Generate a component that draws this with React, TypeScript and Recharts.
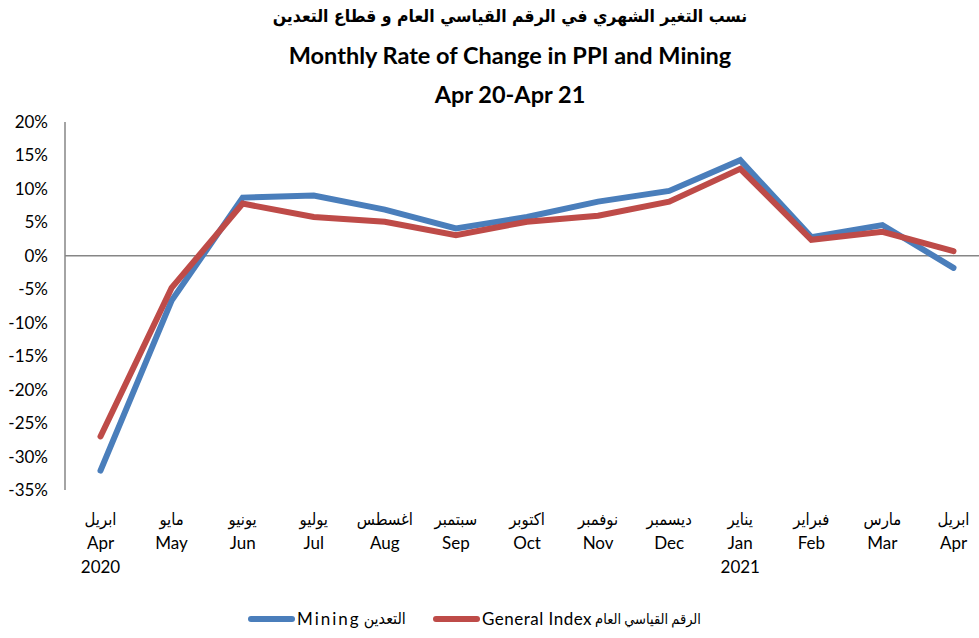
import { LineChart, Line, XAxis, YAxis, ReferenceLine } from 'recharts'

const monthsEn = ['Apr', 'May', 'Jun', 'Jul', 'Aug', 'Sep', 'Oct', 'Nov', 'Dec', 'Jan', 'Feb', 'Mar', 'Apr']
const monthsAr = ['ابريل', 'مايو', 'يونيو', 'يوليو', 'اغسطس', 'سبتمبر', 'اكتوبر', 'نوفمبر', 'ديسمبر', 'يناير', 'فبراير', 'مارس', 'ابريل']
const years = ['2020', '', '', '', '', '', '', '', '', '2021', '', '', '']
const mining = [-32.1, -6.7, 8.7, 9.0, 6.9, 4.1, 5.8, 8.1, 9.7, 14.3, 2.8, 4.6, -1.8]
const general = [-27.0, -4.8, 7.8, 5.8, 5.1, 3.1, 5.1, 6.0, 8.1, 13.0, 2.4, 3.6, 0.7]
const yTicks = [20, 15, 10, 5, 0, -5, -10, -15, -20, -25, -30, -35]

const data = monthsEn.map((m, i) => ({ key: i, month: m, mining: mining[i], general: general[i] }))

const FONT = "Lato, 'DejaVu Sans', sans-serif"
const AR_FONT = "'DejaVu Sans Condensed', 'DejaVu Sans', sans-serif"
const BLUE = '#4A7EBB'
const RED = '#BE4B48'
const GREY = '#868686'

function MonthTick({ x, y, payload }: any) {
  const i = payload.index
  return (
    <g transform={`translate(${x},${y})`} fill="#000">
      <text textAnchor="middle" y={35} fontSize={16.5} fontFamily={AR_FONT}>{monthsAr[i]}</text>
      <text textAnchor="middle" y={59} fontSize={17} fontFamily={FONT}>{monthsEn[i]}</text>
      {years[i] && <text textAnchor="middle" y={83} fontSize={17} fontFamily={FONT}>{years[i]}</text>}
    </g>
  )
}

function LegendBox() {
  const item = (color: string, en: string, ar: string, left: number, spacing: number, arSize: number, arWord: number) => (
    <div style={{ position: 'absolute', left, top: 0, display: 'flex', alignItems: 'center', whiteSpace: 'nowrap' }}>
      <span style={{ width: 47, height: 6, borderRadius: 3, background: color, display: 'inline-block', marginRight: 2 }} />
      <span dir="ltr" style={{ letterSpacing: spacing }}>{en}</span>
      <span dir="rtl" style={{ unicodeBidi: 'isolate', fontFamily: AR_FONT, fontSize: arSize, wordSpacing: arWord, marginLeft: 3 }}>{ar}</span>
    </div>
  )
  return (
    <div style={{ position: 'absolute', left: 0, top: 608, width: 979, height: 24, fontSize: 17, fontFamily: FONT, color: '#000' }}>
      {item(BLUE, 'Mining', 'التعدين', 248, 2, 16, 0)}
      {item(RED, 'General Index', 'الرقم القياسي العام', 433, 0.5, 14.5, -1)}
    </div>
  )
}

export default function App() {
  return (
    <div style={{ position: 'absolute', left: 0, top: 0, width: 979, height: 638, overflow: 'hidden', background: '#fff' }}>
      <div style={{ position: 'absolute', left: 0, top: -3, width: 1020, textAlign: 'center', fontFamily: FONT, fontWeight: 700, fontSize: 23.5, lineHeight: '39px', color: '#000', zIndex: 2 }}>
        <div dir="rtl" style={{ fontFamily: AR_FONT, fontSize: 17.5 }}>نسب التغير الشهري في الرقم القياسي العام و قطاع التعدين</div>
        <div>Monthly Rate of Change in PPI and Mining</div>
        <div>Apr 20-Apr 21</div>
      </div>
      <LineChart width={990} height={638} data={data} margin={{ top: 122, right: 1, left: 0, bottom: 0 }}>
        <XAxis
          dataKey="key"
          axisLine={false}
          tickLine={false}
          tickSize={0}
          tickMargin={0}
          height={148}
          tick={<MonthTick />}
          interval={0}
          padding={{ left: 35.5, right: 35.5 }}
        />
        <YAxis
          domain={[-35, 20]}
          ticks={yTicks}
          width={65}
          interval={0}
          axisLine={{ stroke: GREY, strokeWidth: 1.5 }}
          tickLine={false}
          tickSize={0}
          tickMargin={17}
          tickFormatter={(v: number) => `${v}%`}
          tick={{ fill: '#000', fontSize: 17, fontFamily: FONT }}
        />
        <ReferenceLine y={0} stroke={GREY} strokeWidth={1.5} />
        <Line dataKey="mining" name="Mining" stroke={BLUE} strokeWidth={6} dot={false} strokeLinecap="round" isAnimationActive={false} />
        <Line dataKey="general" name="General Index" stroke={RED} strokeWidth={6} dot={false} strokeLinecap="round" isAnimationActive={false} />
      </LineChart>
      <LegendBox />
    </div>
  )
}
